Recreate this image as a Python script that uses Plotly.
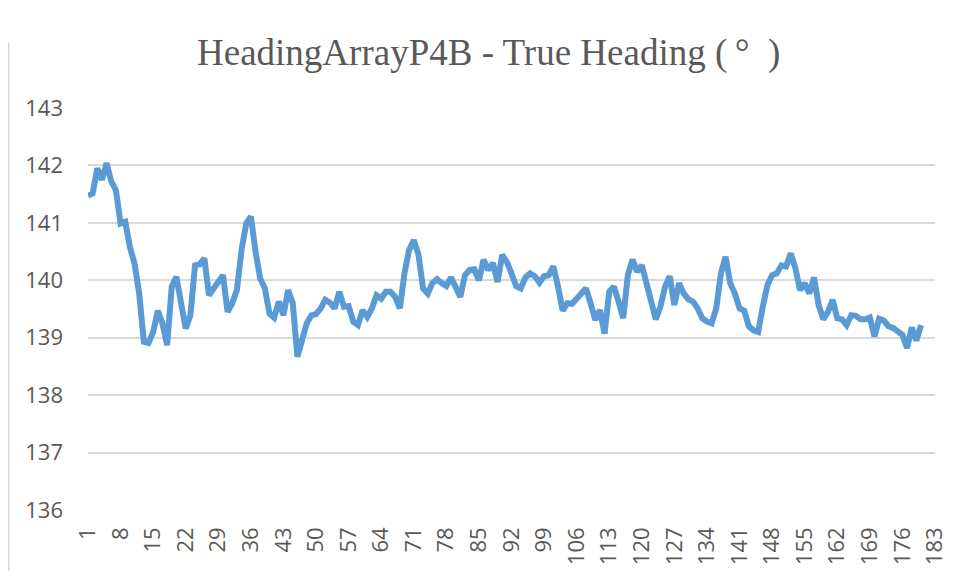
import plotly.graph_objects as go

title_text = "HeadingArrayP4B - True Heading (\u2009°\u2002)"
y_ticks = [136, 137, 138, 139, 140, 141, 142, 143]
x_ticks = list(range(1, 184, 7))

heading = [
    141.47, 141.51, 141.95, 141.75, 142.04, 141.72, 141.57, 140.99, 141.02, 140.58,
    140.29, 139.77, 138.93, 138.91, 139.10, 139.47, 139.25, 138.87, 139.89, 140.06,
    139.60, 139.16, 139.39, 140.26, 140.28, 140.38, 139.74, 139.86, 139.97, 140.09,
    139.45, 139.60, 139.83, 140.53, 140.99, 141.11, 140.50, 140.03, 139.86, 139.42,
    139.35, 139.63, 139.39, 139.83, 139.60, 138.67, 138.96, 139.25, 139.39, 139.41,
    139.51, 139.66, 139.61, 139.51, 139.80, 139.54, 139.55, 139.28, 139.22, 139.48,
    139.36, 139.51, 139.74, 139.68, 139.80, 139.80, 139.71, 139.51, 140.12, 140.53,
    140.70, 140.45, 139.86, 139.77, 139.95, 140.02, 139.95, 139.90, 140.05, 139.89,
    139.71, 140.09, 140.18, 140.19, 140.00, 140.36, 140.18, 140.30, 139.97, 140.44,
    140.32, 140.12, 139.90, 139.86, 140.05, 140.12, 140.07, 139.96, 140.07, 140.09,
    140.24, 139.89, 139.47, 139.60, 139.59, 139.68, 139.78, 139.86, 139.60, 139.31,
    139.48, 139.07, 139.80, 139.89, 139.63, 139.34, 140.09, 140.36, 140.15, 140.26,
    139.95, 139.60, 139.32, 139.54, 139.89, 140.07, 139.57, 139.95, 139.77, 139.67,
    139.63, 139.51, 139.34, 139.28, 139.25, 139.51, 140.12, 140.41, 139.95, 139.77,
    139.51, 139.47, 139.20, 139.13, 139.10, 139.54, 139.92, 140.09, 140.12, 140.26,
    140.24, 140.47, 140.21, 139.83, 139.95, 139.77, 140.05, 139.57, 139.32, 139.45,
    139.66, 139.34, 139.32, 139.22, 139.39, 139.38, 139.32, 139.32, 139.35, 139.02,
    139.33, 139.30, 139.20, 139.17, 139.10, 139.05, 138.82, 139.18, 138.95, 139.22,
]
samples = list(range(1, len(heading) + 1))

# page body has an 8px default margin: figure is drawn at (8, 8)
OFF = 8
W, H = 956 - 2 * OFF, 579 - 2 * OFF
L = 88 - OFF
T = 108 - OFF
R = W - (935 - OFF)
B = H - (510 - OFF)
pw, ph = W - L - R, H - T - B

fig = go.Figure()
fig.add_trace(go.Scatter(
    x=samples, y=heading, mode="lines",
    line=dict(color="#5B9BD5", width=6),
    hoverinfo="skip", showlegend=False,
))

tick_font = dict(family="Open Sans", size=22, color="#595959")
fig.update_layout(
    width=W, height=H,
    margin=dict(l=L, r=R, t=T, b=B, pad=0),
    paper_bgcolor="white", plot_bgcolor="white",
    title=dict(
        text=title_text,
        font=dict(family="Liberation Serif", size=37, color="#595959"),
        xref="container", yref="container",
        x=(197 - OFF) / W, xanchor="left",
        y=1 - (52 - OFF) / H, yanchor="middle",
    ),
    xaxis=dict(
        range=[1, 183.001], tickvals=x_ticks, ticktext=[str(v) for v in x_ticks],
        tickangle=-90, tickfont=tick_font, showgrid=False, zeroline=False,
        showline=False, ticks="", ticklabelstandoff=12, automargin=False,
        ticklabeloverflow="allow",
    ),
    yaxis=dict(
        range=[136, 143], tickvals=y_ticks, tickfont=tick_font,
        showgrid=True, gridcolor="#D9D9D9", gridwidth=1.5, zeroline=False,
        showline=False, ticks="", ticklabelstandoff=24, automargin=False,
        ticklabeloverflow="allow",
    ),
    shapes=[dict(
        type="line", xref="paper", yref="paper",
        x0=(0.75 - L) / pw, x1=(0.75 - L) / pw,
        y0=(H - T) / ph + 0.01, y1=-B / ph - 0.01,
        line=dict(color="#D9D9D9", width=1.5),
    )],
)

fig.write_html("out.html")
